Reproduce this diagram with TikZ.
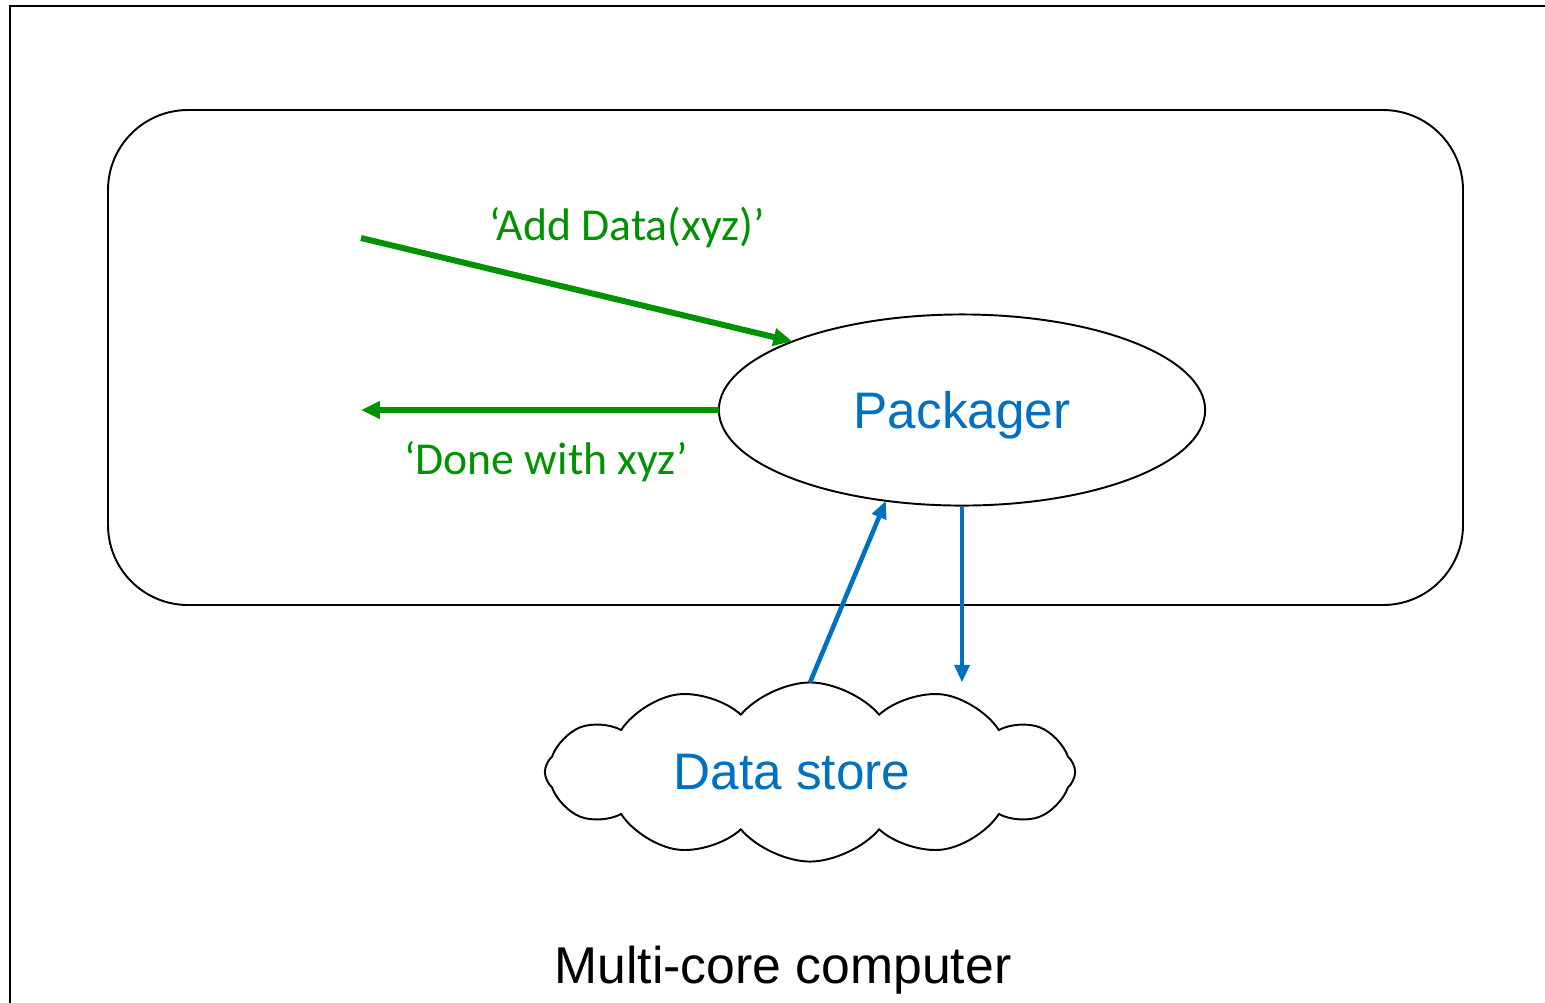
\documentclass[tikz,border=0pt]{standalone}
\usepackage{fontspec}
\usepackage{tikz}
\usetikzlibrary{arrows.meta, positioning, calc, shapes.geometric, shapes.symbols}
\newfontfamily\arialfont{Liberation Sans}
\newfontfamily\calfont{Carlito}
\definecolor{msggreen}{RGB}{0,146,0}
\definecolor{pkgblue}{RGB}{0,112,192}

\begin{document}
\begin{tikzpicture}[x={(0.01cm,0)},y={(0,-0.01cm)},
		box line/.style={draw,line width=0.55pt},
		main node/.style={ellipse,box line,inner sep=0pt,outer sep=0pt,text depth=0pt,
			font=\arialfont\fontsize{14.6}{17}\selectfont,text=pkgblue},
		msg/.style={msggreen,line width=1.7pt,-{Triangle[length=5.4pt,width=4.8pt]}},
		msg text/.style={font=\calfont\fontsize{13}{15}\selectfont,text=msggreen},
		flow/.style={pkgblue,line width=1.3pt,-{Triangle[length=5pt,width=4.2pt]}}]
		
		\useasboundingbox (0,0) rectangle (1545,1002);
		\clip (0,0) rectangle (1545,1002);
		
		% computer and process
		\draw[line width=0.7pt] (10,6) rectangle (1600,1050);
		\draw[box line,rounded corners=0.8cm] (108,110) rectangle (1463,605);
		
		\node[main node,minimum width=4.86cm,minimum height=1.91cm] (pack) at (962,410) {Packager};
		\node[cloud,cloud puffs=12,cloud puff arc=100,aspect=3,box line,
			minimum width=5.3cm,minimum height=1.79cm,inner sep=0pt,outer sep=0pt,
			label={[font=\arialfont\fontsize{14.6}{17}\selectfont,text=pkgblue,xshift=-0.18cm]center:Data store}]
			(store) at (810,772) {};
		
		\coordinate (in) at (361,238);
		\coordinate (out) at (361,410);
		
		\path
		(in) edge[msg] (pack.158.4)
		(pack.west) edge[msg] (out)
		(store.north) edge[flow] (pack.230)
		(pack.south) edge[flow] (pack.south |- store.north);
		
		\node[msg text] (addlbl) at (627,227) {‘Add Data(xyz)’};
		\node[msg text] (donelbl) at (546,462) {‘Done with xyz’};
		\node[font=\arialfont\fontsize{14.7}{17}\selectfont] (comp) at (783,970) {Multi-core computer};
		\end{tikzpicture}
\end{document}
